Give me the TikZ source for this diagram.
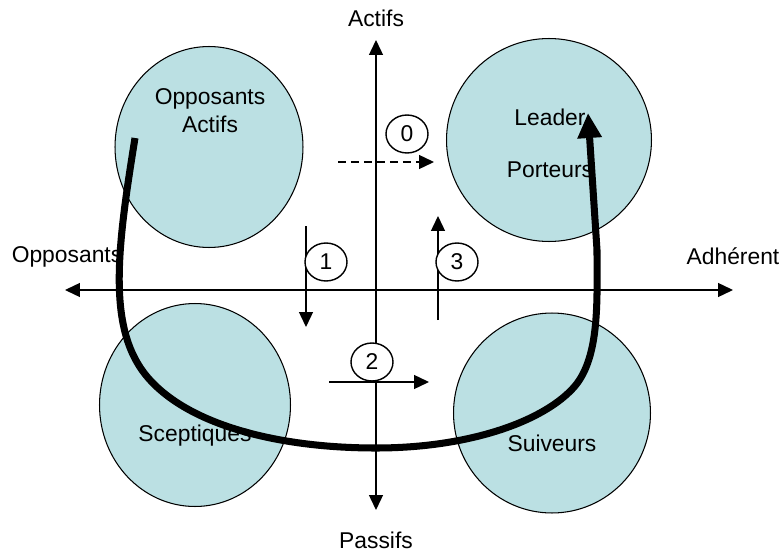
\documentclass[tikz,border=0pt]{standalone}
\usepackage{fontspec}
\setmainfont{Liberation Sans}
\usetikzlibrary{arrows.meta,shapes.geometric,positioning}

\definecolor{campblue}{RGB}{187,224,227}

\tikzset{
  camp/.style={draw=black,line width=0.6pt,fill=campblue,ellipse,inner sep=0pt},
  lbl/.style={font=\fontsize{13}{16}\selectfont,inner sep=0pt,align=center},
  stage/.style={draw,ellipse,fill=white,line width=0.8pt,minimum width=0.84cm,minimum height=0.76cm,inner sep=0pt,font=\fontsize{13}{16}\selectfont},
  axisline/.style={line width=0.8pt,{Triangle[length=0.3cm,width=0.28cm]}-{Triangle[length=0.3cm,width=0.28cm]}},
  steparrow/.style={line width=0.8pt,-{Triangle[length=0.3cm,width=0.28cm]}},
  journey/.style={line width=4pt,-{Triangle[length=0.5cm,width=0.46cm]}}
}

\begin{document}
\begin{tikzpicture}[x=0.02cm,y=-0.02cm]
  \useasboundingbox (0,0) rectangle (782,551);

  % Camps
  \node[camp,minimum width=3.76cm,minimum height=4.02cm] (opp-actifs) at (209,147) {};
  \node[camp,minimum width=4.10cm,minimum height=4.06cm] (leader) at (549,140) {};
  \node[camp,minimum width=3.82cm,minimum height=4.06cm] (sceptiques) at (195,405) {};
  \node[camp,minimum width=3.94cm,minimum height=4.00cm] (suiveurs) at (552,413) {};

  % Axes
  \coordinate (opp-end) at (65,290);
  \coordinate (adh-end) at (733,290);
  \coordinate (act-end) at (376,40);
  \coordinate (pas-end) at (376,510);
  \draw[axisline] (opp-end) -- (adh-end);
  \draw[axisline] (pas-end) -- (act-end);

  % Steps
  \coordinate (step0-a) at (338,162);
  \coordinate (step0-b) at (434,162);
  \coordinate (step1-a) at (306,226);
  \coordinate (step1-b) at (306,327);
  \coordinate (step2-a) at (329,382);
  \coordinate (step2-b) at (429,382);
  \coordinate (step3-a) at (438,320);
  \coordinate (step3-b) at (438,216);
  \draw[steparrow,dash pattern=on 0.16cm off 0.1cm] (step0-a) -- (step0-b);
  \draw[steparrow] (step1-a) -- (step1-b);
  \draw[steparrow] (step2-a) -- (step2-b);
  \draw[steparrow] (step3-a) -- (step3-b);
  \node[stage] (s0) at (407,134) {0};
  \node[stage] (s1) at (326,262) {1};
  \node[stage] (s2) at (372,362) {2};
  \node[stage] (s3) at (457,262) {3};

  % Labels
  \node[lbl] (actifs) at (376,18) {Actifs};
  \node[lbl] (passifs) at (376,540) {Passifs};
  \node[lbl] (opposants) at (67,257) {Opposants};
  \node[lbl] (adherent) at (733,256) {Adhérent};
  \node[lbl] (opp-actifs-txt) at (210,111) {Opposants\\Actifs};
  \node[lbl] (leader-txt) at (550,117) {Leader};
  \node[lbl] (porteurs-txt) at (550,170) {Porteurs};
  \node[lbl] (sceptiques-txt) at (195,436) {Sceptiques};
  \node[lbl] (suiveurs-txt) at (552,443) {Suiveurs};

  % Path of change
  \coordinate (journey-start) at (135,138);
  \coordinate (journey-end) at (588,113);
  \draw[journey] (journey-start) .. controls (117,250) and (106,332) .. (150,380)
    .. controls (192,426) and (280,448) .. (376,448)
    .. controls (470,448) and (545,421) .. (575,386)
    .. controls (600,356) and (597,300) .. (597,250) -- (journey-end);

\end{tikzpicture}
\end{document}
